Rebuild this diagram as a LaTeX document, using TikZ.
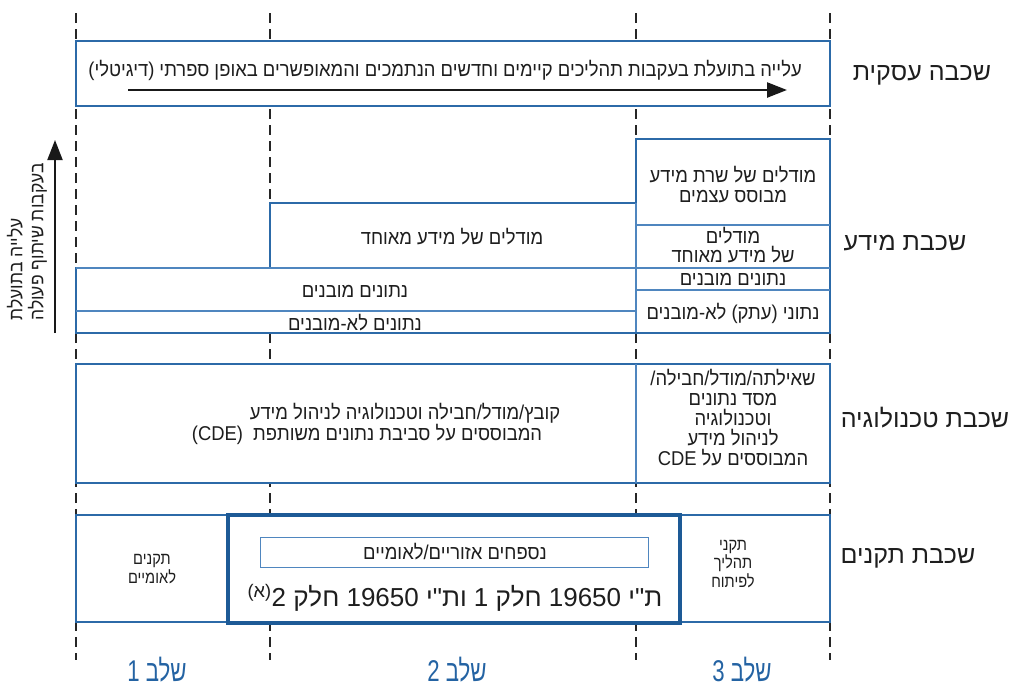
\documentclass[tikz,border=0pt]{standalone}
\usepackage{fontspec}
\setmainfont[Script=Hebrew]{Liberation Sans}
\newfontfamily\bodyheb[Script=Hebrew,FakeStretch=0.92]{Liberation Sans}
\newfontfamily\narrowheb[Script=Hebrew,FakeStretch=0.86]{Liberation Sans}
\newfontfamily\stageheb[Script=Hebrew,FakeStretch=0.74]{Liberation Sans}
\newfontfamily\plainheb[Script=Hebrew,Ligatures=TeXOff]{Liberation Sans}
\TeXXeTstate=1
\usetikzlibrary{arrows.meta}
\newcommand\rtl[1]{\beginR #1\endR}
\definecolor{frameblue}{HTML}{2C6AA8}
\definecolor{innerblue}{HTML}{4F86BF}
\definecolor{deepblue}{HTML}{1D5A96}
\definecolor{stageblue}{HTML}{2463A3}
\definecolor{inktext}{HTML}{1E1E1E}
\tikzset{
  guide/.style={draw=black!85, line width=1.5pt, dash pattern=on 10pt off 6pt},
  layerbox/.style={draw=frameblue, line width=1.8pt, fill=white},
  innerline/.style={draw=innerblue, line width=1.1pt},
  txt/.style={text=inktext, font=\bodyheb\fontsize{20}{20}\selectfont, align=center, inner sep=0pt},
  smalltxt/.style={text=inktext, font=\narrowheb\fontsize{17}{18.5}\selectfont, align=center, inner sep=0pt},
  bigtxt/.style={text=inktext, font=\plainheb\fontsize{26}{30}\selectfont, align=center, inner sep=0pt},
  layerlabel/.style={text=inktext, font=\fontsize{25}{30}\selectfont, inner sep=0pt},
  stagelabel/.style={text=stageblue, font=\stageheb\fontsize{30}{32}\selectfont, inner sep=0pt, anchor=base},
  bigarrow/.style={draw=black!90, line width=2.4pt, -{Triangle[length=20pt,width=15pt]}},
}
\begin{document}
\begin{tikzpicture}[x=1pt,y=-1pt]
\useasboundingbox (0,0) rectangle (1017,686);

% stage guides (covered by the white layer boxes)
\foreach \gx/\gn in {76/a,270/b,636/c,830/d}{
  \coordinate (g\gn top) at (\gx,13);
  \coordinate (g\gn bot) at (\gx,660);
  \draw[guide] (g\gn top) -- (g\gn bot);
}

% ---------- business layer ----------
\draw[layerbox] (76,41) rectangle (830,106);
\node[txt] (biztext) at (445,70)
  {\rtl{עלייה בתועלת בעקבות תהליכים קיימים וחדשים הנתמכים והמאופשרים באופן ספרתי (דיגיטלי)}};
\coordinate (bizstart) at (128,90);
\coordinate (bizend) at (787,90);
\draw[bigarrow] (bizstart) -- (bizend);
\node[layerlabel] (lbiz) at (922,75) {\rtl{שכבה עסקית}};

% ---------- information layer ----------
\draw[layerbox] (76,333) -- (76,268) -- (270,268) -- (270,203) -- (636,203)
  -- (636,139) -- (830,139) -- (830,333) -- cycle;
\draw[innerline] (76,268) -- (830,268);
\draw[innerline] (76,311) -- (636,311);
\draw[innerline] (636,225) -- (830,225);
\draw[innerline] (636,290) -- (830,290);
\draw[innerline] (636,203) -- (636,333);
\draw[draw=frameblue, line width=1.8pt] (76,333) -- (830,333);

\node[txt] (infomid) at (452,237) {\rtl{מודלים של מידע מאוחד}};
\node[txt] (infostruct) at (355,291) {\rtl{נתונים מובנים}};
\node[txt] (infounstruct) at (355,323) {\rtl{נתונים לא-מובנים}};
\node[txt] (infor1) at (733,185) {\rtl{מודלים של שרת מידע}\\\rtl{מבוסס עצמים}};
\node[txt, font=\bodyheb\fontsize{20}{18.5}\selectfont] (infor2) at (733,245) {\rtl{מודלים}\\\rtl{של מידע מאוחד}};
\node[txt] (infor3) at (733,279) {\rtl{נתונים מובנים}};
\node[txt] (infor4) at (733,313) {\rtl{נתוני (עתק) לא-מובנים}};
\node[layerlabel] (linfo) at (905,243) {\rtl{שכבת מידע}};

% cooperation arrow on the left
\coordinate (coopstart) at (55,333);
\coordinate (coopend) at (55,140);
\draw[bigarrow, line width=2pt] (coopstart) -- (coopend);
\node[txt, rotate=90, align=left, font=\bodyheb\fontsize{19}{21}\selectfont] (cooptext) at (27,242)
  {\rtl{עלייה בתועלת}\\\rtl{בעקבות שיתוף פעולה}};

% ---------- technology layer ----------
\draw[layerbox] (76,364) rectangle (830,483);
\draw[innerline] (636,364) -- (636,483);
\node[txt] (techmainA) at (405,413) {\rtl{קובץ/מודל/חבילה וטכנולוגיה לניהול מידע}};
\node[txt] (techmainB) at (367,434) {\rtl{המבוססים על סביבת נתונים משותפת \ (CDE)}};
\node[txt] (techright) at (733,418)
  {\rtl{שאילתה/מודל/חבילה/}\\\rtl{מסד נתונים}\\\rtl{וטכנולוגיה}\\\rtl{לניהול מידע}\\\rtl{המבוססים על CDE}};
\node[layerlabel] (ltech) at (925,418) {\rtl{שכבת טכנולוגיה}};

% ---------- standards layer ----------
\draw[layerbox] (76,515) rectangle (830,622);
\draw[draw=deepblue, line width=3.6pt] (228,515) rectangle (680,623);
\draw[innerline, line width=0.9pt] (260,537) rectangle (648,567);
\node[txt] (annex) at (455,552) {\rtl{נספחים אזוריים/לאומיים}};
\node[bigtxt] (isstd) at (455,598)
  {\rtl{ת"י 19650 חלק 1 ות"י 19650 חלק 2\textsuperscript{(א)}}};
\node[smalltxt] (natstd) at (152,569) {\rtl{תקנים}\\\rtl{לאומיים}};
\node[smalltxt] (procstd) at (733,564)
  {\rtl{תקני}\\\rtl{תהליך}\\\rtl{לפיתוח}};
\node[layerlabel] (lstd) at (908,558) {\rtl{שכבת תקנים}};

% ---------- stages ----------
\node[stagelabel] (st1) at (157,681) {\rtl{שלב 1}};
\node[stagelabel] (st2) at (457,681) {\rtl{שלב 2}};
\node[stagelabel] (st3) at (742,681) {\rtl{שלב 3}};
\end{tikzpicture}
\end{document}
